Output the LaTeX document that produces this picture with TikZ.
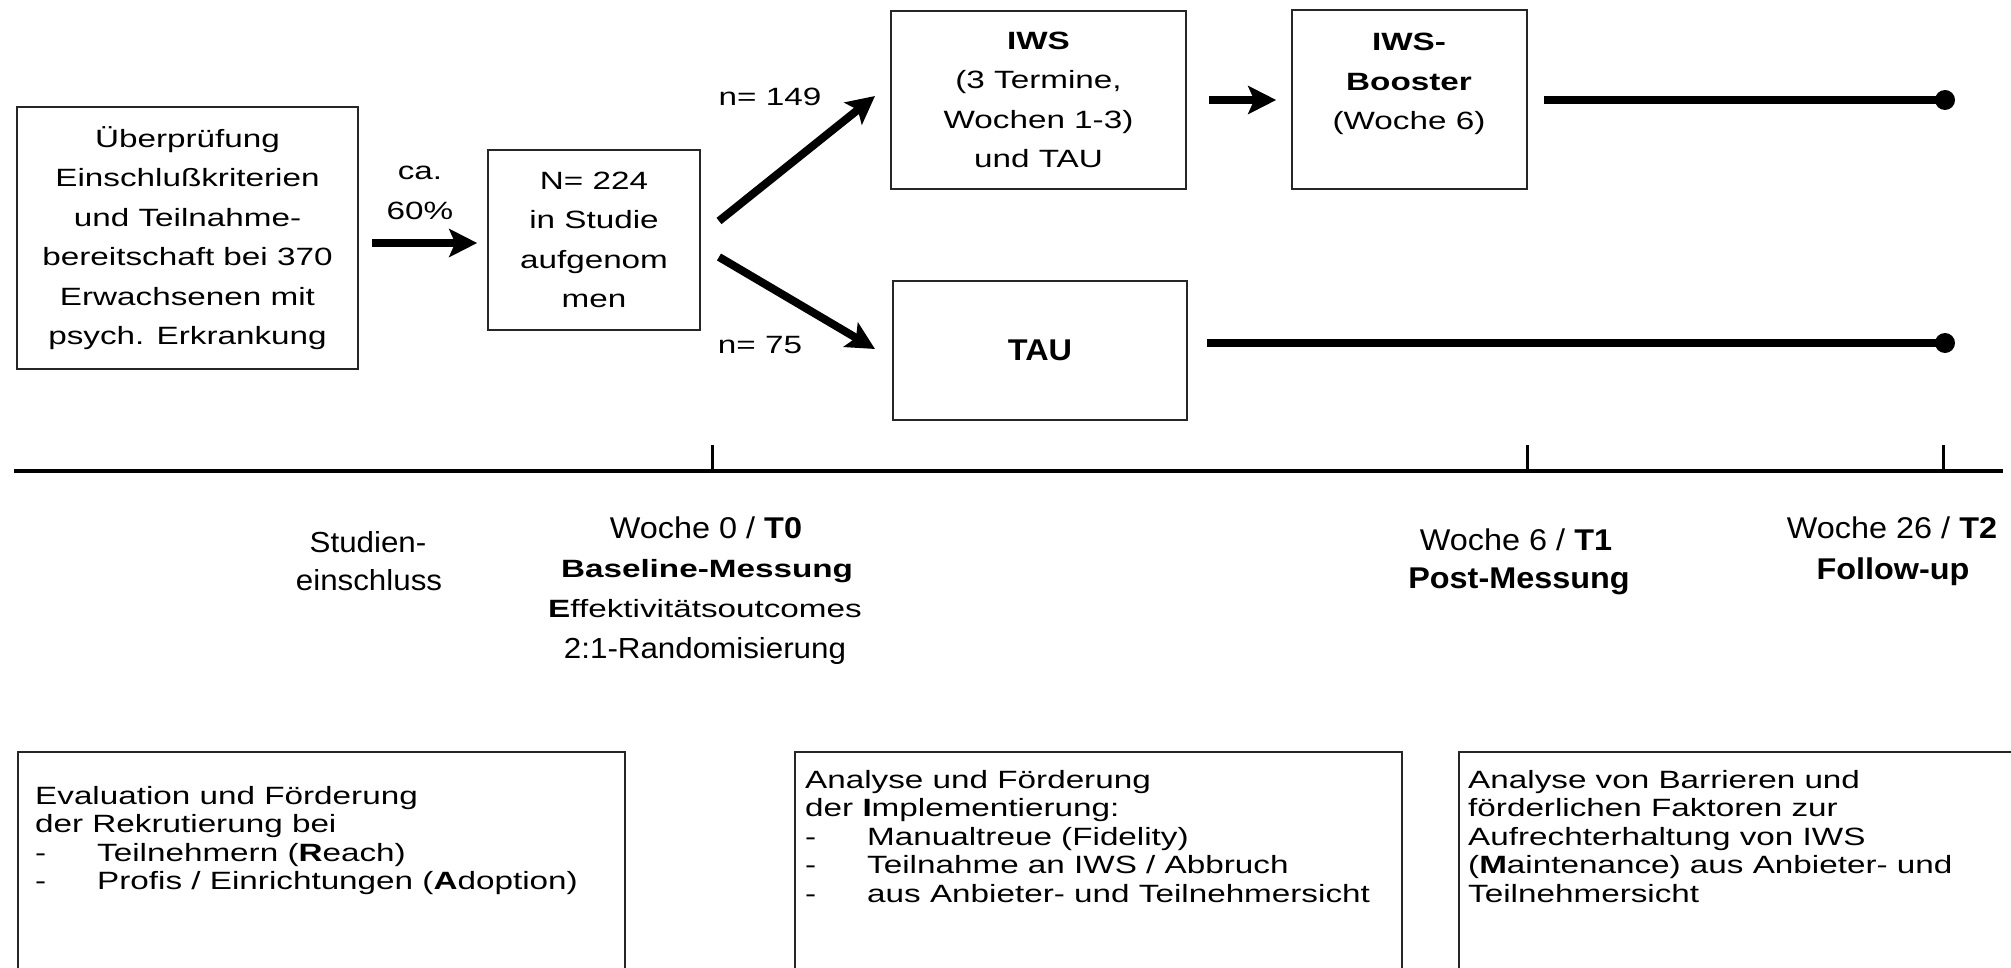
\documentclass[tikz,border=0pt]{standalone}
\usepackage{fontspec}
\setmainfont[FakeStretch=1.33]{Liberation Sans}
\newfontfamily\wkfont[FakeStretch=1.08]{Liberation Sans}
\usetikzlibrary{arrows.meta}
\newcommand\dashitem{\makebox[62pt][l]{-}}
\begin{document}
\begin{tikzpicture}[x=1pt,y=-1pt,
  box/.style={draw=black!85,line width=1.6pt,inner sep=0pt},
  txt/.style={font=\fontsize{25}{39.5}\selectfont,align=center,inner sep=0pt},
  wk/.style={font=\wkfont\fontsize{30}{38}\selectfont,inner sep=0pt,anchor=base},
  mn/.style={font=\fontsize{25}{30}\selectfont,inner sep=0pt,anchor=base},
  btxt/.style={align=left,inner sep=0pt,anchor=north west,font=\fontsize{25}{28.5}\selectfont},
  bigarrow/.style={line width=8pt,-{Stealth[length=28pt,width=28pt,inset=6pt]}},
  thickline/.style={line width=8pt},
  enddot/.style={circle,fill=black,minimum size=20pt,inner sep=0pt},
  axisline/.style={line width=4pt},
  tickmark/.style={line width=3pt}]
\useasboundingbox (0,0) rectangle (2011,968);
\clip (0,0) rectangle (2011,968);

% top row boxes
\node[box,txt,minimum width=341pt,minimum height=262pt] (b1) at (187.5,238)
  {Überprüfung\\Einschlußkriterien\\und Teilnahme-\\bereitschaft bei 370\\Erwachsenen mit\\psych. Erkrankung};
\node[box,txt,minimum width=212pt,minimum height=180pt] (b2) at (594,240)
  {N= 224\\in Studie\\aufgenom\\men};
\node[box,txt,minimum width=295pt,minimum height=178pt] (iws) at (1038.5,100)
  {\textbf{IWS}\\(3 Termine,\\Wochen 1-3)\\und TAU};
\node[box,minimum width=235pt,minimum height=179pt] (boost) at (1409.5,99.5) {};
\node[txt] (boosttxt) at (1409,84) {\textbf{IWS-}\\\textbf{Booster}\\(Woche 6)};
\node[box,minimum width=294pt,minimum height=139pt,font=\wkfont\fontsize{30}{36}\selectfont\bfseries] (tau) at (1040,350.5) {TAU};

% labels
\node[mn] (ca1) at (420,180) {ca.};
\node[mn] (ca2) at (420,220) {60\%};
\node[mn] (n1) at (770,106) {n= 149};
\node[mn] (n2) at (760,354) {n= 75};

% arrows
\draw[bigarrow,shorten <=13pt,shorten >=10pt] (b1.east |- 0,243) -- (b2.west |- 0,243);
\coordinate (u1) at (719,221);
\coordinate (u2) at (875,96);
\coordinate (l1) at (719,257);
\coordinate (l2) at (875,349);
\draw[bigarrow] (u1) -- (u2);
\draw[bigarrow] (l1) -- (l2);
\draw[bigarrow,shorten <=22pt,shorten >=15pt] (iws.east |- 0,100) -- (boost.west |- 0,100);

% follow lines
\node[enddot] (d1) at (1945,100) {};
\node[enddot] (d2) at (1945,343) {};
\draw[thickline,shorten <=16pt] (boost.east |- 0,100) -- (d1.center);
\draw[thickline,shorten <=19pt] (tau.east |- 0,343) -- (d2.center);

% timeline
\coordinate (tl0) at (14,471);
\coordinate (tl1) at (2003,471);
\draw[axisline] (tl0) -- (tl1);
\coordinate (k0) at (712,471);
\coordinate (k1) at (1527,471);
\coordinate (k2) at (1943,471);
\draw[tickmark] (k0) -- ++(0,-26);
\draw[tickmark] (k1) -- ++(0,-26);
\draw[tickmark] (k2) -- ++(0,-26);

% timeline labels
\node[wk,font=\wkfont\fontsize{29}{36}\selectfont] (st1) at (368,552) {Studien-};
\node[wk,font=\wkfont\fontsize{29}{36}\selectfont] (st2) at (369,590) {einschluss};
\node[wk] (w0a) at (706,538) {Woche 0 / \textbf{T0}};
\node[mn] (w0b) at (707,577) {\textbf{Baseline-Messung}};
\node[mn] (w0c) at (705,617) {\textbf{E}ffektivitätsoutcomes};
\node[wk,font=\wkfont\fontsize{29}{36}\selectfont] (w0d) at (705,658) {2:1-Randomisierung};
\node[wk] (w1a) at (1516,550) {Woche 6 / \textbf{T1}};
\node[wk] (w1b) at (1519,588) {\textbf{Post-Messung}};
\node[wk] (w2a) at (1892,538) {Woche 26 / \textbf{T2}};
\node[wk] (w2b) at (1893,579) {\textbf{Follow-up}};

% bottom boxes
\node[box,minimum width=607pt,minimum height=260pt,anchor=north west] (bA) at (17,751) {};
\node[box,minimum width=607pt,minimum height=260pt,anchor=north west] (bB) at (794,751) {};
\node[box,minimum width=570pt,minimum height=260pt,anchor=north west] (bC) at (1458,751) {};

\node[btxt] (tA) at (35,780)
  {\rule{0pt}{24pt}Evaluation und Förderung\\der Rekrutierung bei\\\dashitem Teilnehmern (\textbf{R}each)\\\dashitem Profis / Einrichtungen (\textbf{A}doption)};
\node[btxt] (tB) at (805,764)
  {\rule{0pt}{24pt}Analyse und Förderung\\der \textbf{I}mplementierung:\\\dashitem Manualtreue (Fidelity)\\\dashitem Teilnahme an IWS / Abbruch\\\dashitem aus Anbieter- und Teilnehmersicht};
\node[btxt] (tC) at (1468,764)
  {\rule{0pt}{24pt}Analyse von Barrieren und\\förderlichen Faktoren zur\\Aufrechterhaltung von IWS\\(\textbf{M}aintenance) aus Anbieter- und\\Teilnehmersicht};
\end{tikzpicture}
\end{document}
